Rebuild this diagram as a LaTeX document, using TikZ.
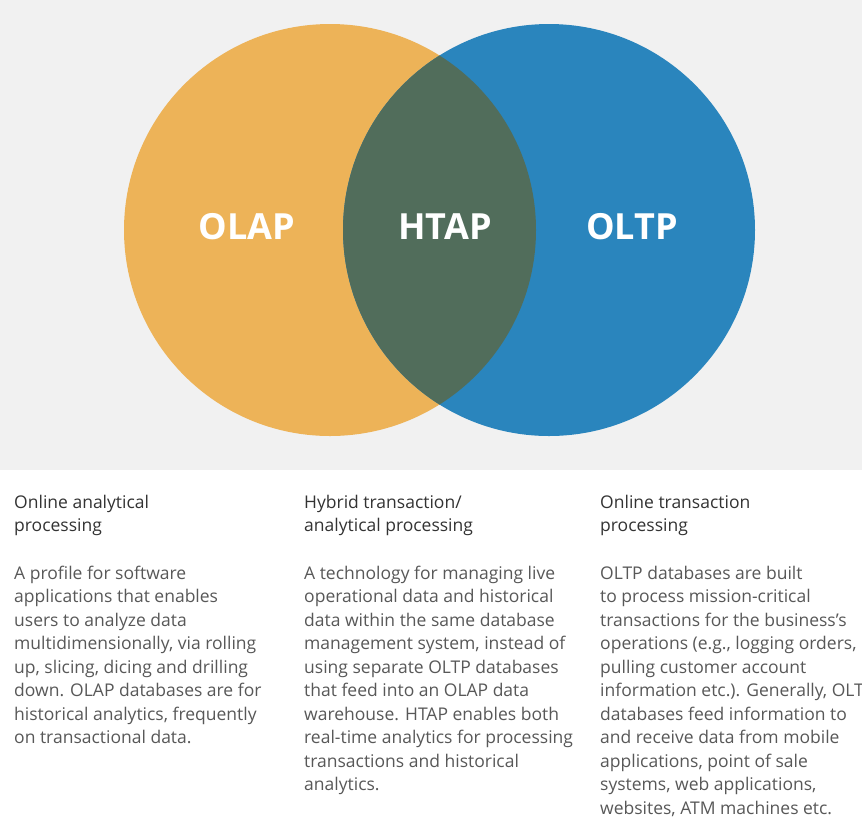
\documentclass[tikz,border=0pt]{standalone}
\usepackage{fontspec}
\setmainfont{Open Sans}
\definecolor{bgray}{HTML}{F1F1F1}
\definecolor{olapc}{HTML}{EDB358}
\definecolor{oltpc}{HTML}{2A85BD}
\definecolor{htapc}{HTML}{516D5B}
\definecolor{headc}{HTML}{333333}
\definecolor{bodyc}{HTML}{585858}
\tikzset{
  biglabel/.style={text=white, font=\bfseries\fontsize{36}{40}\selectfont, inner sep=0pt},
  headtext/.style={text=headc, font=\fontsize{17.5}{23.5}\selectfont, align=left, inner sep=0pt, anchor=base west},
  bodytext/.style={text=bodyc, font=\fontsize{17.5}{23.5}\selectfont, align=left, inner sep=0pt, anchor=base west},
}
\begin{document}
\begin{tikzpicture}[x=1pt,y=-1pt]
\useasboundingbox (0,0) rectangle (862,831);
\clip (0,0) rectangle (862,831);
\fill[white] (0,0) rectangle (862,831);
\fill[bgray] (0,0) rectangle (862,470);
\coordinate (cl) at (330,230);
\coordinate (cr) at (549,230);
\fill[olapc] (cl) circle (206pt);
\fill[oltpc] (cr) circle (206pt);
\begin{scope}
  \clip (cl) circle (206pt);
  \fill[htapc] (cr) circle (206pt);
\end{scope}
\node[biglabel] (olap) at (247,227) {OLAP};
\node[biglabel] (htap) at (445,227) {HTAP};
\node[biglabel] (oltp) at (632,227) {OLTP};

% anchor = baseline of the last line
\node[headtext] (h1) at (14,531.5) {Online analytical\\processing};
\node[headtext] (h2) at (304,531.5) {Hybrid transaction/\\analytical processing};
\node[headtext] (h3) at (600,531.5) {Online transaction\\processing};

\node[bodytext] (b1) at (14,743.5) {A profile for software\\applications that enables\\users to analyze data\\multidimensionally, via rolling\\up, slicing, dicing and drilling\\down. OLAP databases are for\\historical analytics, frequently\\on transactional data.};
\node[bodytext] (b2) at (304,790.5) {A technology for managing live\\operational data and historical\\data within the same database\\management system, instead of\\using separate OLTP databases\\that feed into an OLAP data\\warehouse. HTAP enables both\\real-time analytics for processing\\transactions and historical\\analytics.};
\node[bodytext] (b3) at (600,814) {OLTP databases are built\\to process mission-critical\\transactions for the business’s\\operations (e.g., logging orders,\\pulling customer account\\information etc.). Generally, OLTP\\databases feed information to\\and receive data from mobile\\applications, point of sale\\systems, web applications,\\websites, ATM machines etc.};
\end{tikzpicture}
\end{document}
